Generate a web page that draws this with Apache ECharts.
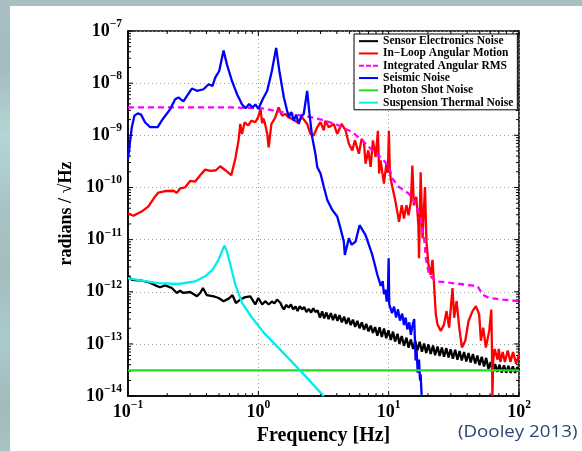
<!DOCTYPE html>
<html>
<head>
<meta charset="utf-8">
<script src="https://cdn.jsdelivr.net/npm/echarts@6/dist/echarts.min.js"></script>
<style>
  html, body { margin: 0; padding: 0; }
  body {
    width: 582px; height: 451px; overflow: hidden;
    background: linear-gradient(to bottom, #a8bfc3 0%, #a5bcbf 15%, #b4d6d5 30%, #a9c4c6 45%, #a4bcbd 60%, #aacbcd 75%, #a3babb 90%, #a9c2c4 100%);
  }
  #chart { width: 582px; height: 451px; }
</style>
</head>
<body>
<div id="chart"></div>
<script>
// 数据: [频率 Hz, radians/√Hz]
var sensorNoise = [
  [0.1, 2.0e-12], [0.107, 1.7e-12], [0.127, 1.63e-12], [0.143, 1.54e-12], [0.162, 1.33e-12],
  [0.176, 1.22e-12], [0.193, 1.33e-12], [0.217, 1.18e-12], [0.237, 9.5e-13], [0.251, 1.05e-12],
  [0.266, 9.5e-13], [0.3, 9.9e-13], [0.338, 8.2e-13], [0.358, 9.5e-13], [0.376, 1.18e-12],
  [0.403, 8.6e-13], [0.453, 8.2e-13], [0.495, 7.6e-13], [0.541, 6.6e-13], [0.592, 7.4e-13],
  [0.634, 8.6e-13], [0.673, 6.1e-13], [0.727, 7.1e-13], [0.794, 7.9e-13], [0.868, 8.2e-13],
  [0.948, 5.7e-13], [1.0, 7.6e-13], [1.07, 5.7e-13], [1.13, 6.6e-13], [1.2, 5.7e-13],
  [1.27, 6.5e-13], [1.33, 6.0e-13], [1.39, 7.1e-13], [1.48, 6.1e-13], [1.52, 5.2e-13],
  [1.57, 4.6e-13], [1.64, 5.6e-13], [1.71, 5.0e-13], [1.78, 5.7e-13], [1.85, 4.6e-13],
  [1.93, 5.2e-13], [2.0, 4.3e-13], [2.08, 5.3e-13], [2.17, 4.6e-13], [2.25, 5.1e-13],
  [2.34, 4.1e-13], [2.44, 4.7e-13], [2.54, 4.0e-13], [2.64, 4.8e-13], [2.74, 4.1e-13],
  [2.85, 4.4e-13], [2.97, 3.2e-13], [3.09, 4.2e-13], [3.2, 3.1e-13], [3.33, 4.0e-13],
  [3.46, 3.0e-13], [3.6, 3.9e-13], [3.74, 2.87e-13], [3.89, 3.74e-13], [4.05, 2.78e-13],
  [4.2, 3.57e-13], [4.37, 2.6e-13], [4.55, 3.33e-13], [4.73, 2.43e-13], [4.92, 3.16e-13],
  [5.11, 2.3e-13], [5.32, 2.93e-13], [5.53, 2.13e-13], [5.75, 2.76e-13], [5.98, 2.0e-13],
  [6.22, 2.59e-13], [6.47, 1.87e-13], [6.73, 2.42e-13], [7.0, 1.74e-13], [7.28, 2.24e-13],
  [7.57, 1.63e-13], [7.87, 2.1e-13], [8.19, 1.44e-13], [8.52, 2.09e-13], [8.86, 1.36e-13],
  [9.21, 1.98e-13], [9.58, 1.29e-13], [9.96, 1.83e-13], [10.4, 1.19e-13], [10.8, 1.72e-13],
  [11.2, 1.11e-13], [11.7, 1.57e-13], [12.1, 1.0e-13], [12.6, 1.42e-13], [13.1, 9.2e-14],
  [13.7, 1.32e-13], [14.2, 8.5e-14], [14.8, 1.22e-13], [15.4, 8.0e-14], [16.0, 1.15e-13],
  [16.6, 7.5e-14], [17.3, 1.1e-13], [18.0, 7.1e-14], [18.7, 1.02e-13], [19.4, 6.7e-14],
  [20.2, 9.8e-14], [21.0, 6.4e-14], [21.9, 9.3e-14], [22.7, 6.1e-14], [23.7, 8.9e-14],
  [24.6, 5.9e-14], [25.6, 8.5e-14], [26.6, 5.7e-14], [27.7, 8.3e-14], [28.8, 5.5e-14],
  [29.9, 7.9e-14], [31.1, 5.2e-14], [32.4, 7.7e-14], [33.7, 5.0e-14], [35.0, 7.3e-14],
  [36.4, 4.8e-14], [37.9, 7.0e-14], [39.4, 4.6e-14], [41.0, 6.7e-14], [42.6, 4.4e-14],
  [44.3, 6.4e-14], [46.1, 4.2e-14], [47.9, 6.0e-14], [49.8, 3.9e-14], [51.8, 5.7e-14],
  [53.9, 3.7e-14], [56.0, 5.4e-14], [58.3, 3.3e-14], [60.6, 4.5e-14], [63.0, 2.9e-14],
  [65.6, 4.1e-14], [68.2, 2.9e-14], [70.9, 4.0e-14], [73.7, 2.8e-14], [76.7, 3.9e-14],
  [79.7, 2.8e-14], [82.9, 3.8e-14], [86.2, 2.8e-14], [89.7, 3.7e-14], [93.3, 2.8e-14],
  [97.0, 3.6e-14], [100, 3.2e-14]
];

var inLoopMotion = [
  [0.1, 3.2e-11], [0.11, 2.86e-11], [0.127, 3.45e-11], [0.143, 4.3e-11], [0.161, 6.65e-11],
  [0.171, 8.0e-11], [0.193, 8.55e-11], [0.223, 8.66e-11], [0.237, 7.9e-11], [0.251, 9.6e-11],
  [0.274, 1.0e-10], [0.3, 1.34e-10], [0.327, 1.29e-10], [0.358, 1.72e-10], [0.391, 2.2e-10],
  [0.428, 2.08e-10], [0.473, 2.14e-10], [0.51, 2.55e-10], [0.558, 2.14e-10], [0.62, 1.72e-10],
  [0.666, 3.56e-10], [0.705, 8.0e-10], [0.727, 1.65e-9], [0.75, 1.06e-9], [0.785, 1.78e-9],
  [0.834, 1.54e-9], [0.884, 1.91e-9], [0.948, 1.78e-9], [0.995, 2.21e-9], [1.04, 3.18e-9],
  [1.07, 1.7e-9], [1.09, 2.1e-9], [1.12, 1.78e-9], [1.17, 1.06e-9], [1.2, 5.9e-10],
  [1.26, 1.65e-9], [1.35, 2.21e-9], [1.43, 3.43e-9], [1.52, 2.38e-9], [1.61, 2.56e-9],
  [1.71, 2.21e-9], [1.82, 2.06e-9], [1.99, 1.78e-9], [2.17, 2.21e-9], [2.37, 1.65e-9],
  [2.51, 1.06e-9], [2.66, 9.9e-10], [2.83, 1.43e-9], [3.0, 1.78e-9], [3.18, 1.24e-9],
  [3.27, 1.91e-9], [3.47, 1.43e-9], [3.79, 1.65e-9], [4.03, 1.06e-9], [4.35, 1.65e-9],
  [4.67, 1.24e-9], [4.95, 6.9e-10], [5.26, 5.15e-10], [5.51, 8.0e-10], [5.91, 4.44e-10],
  [6.2, 8.55e-10], [6.46, 7.4e-10], [6.65, 2.86e-10], [6.98, 5.15e-10], [7.27, 2.48e-10],
  [7.57, 8.0e-10], [7.94, 3.84e-10], [8.27, 1.22e-9], [8.45, 1.85e-10], [8.67, 3.3e-10],
  [9.2, 1.19e-10], [9.6, 2.86e-10], [9.85, 1.9e-10], [10.04, 1.22e-9], [10.2, 2.27e-10],
  [10.36, 1.47e-10], [10.67, 1.02e-10], [11.17, 6.1e-11], [11.66, 3.4e-11], [12.0, 2.19e-11],
  [12.6, 4.55e-11], [13.1, 2.54e-11], [13.7, 4.55e-11], [14.2, 2.94e-11], [14.8, 5.27e-11],
  [15.2, 2.62e-10], [15.6, 4.55e-11], [16.3, 6.58e-11], [16.9, 1.9e-11], [17.1, 4.4e-12],
  [17.6, 1.96e-10], [18.2, 1.06e-11], [19.0, 1.02e-10], [19.5, 9.16e-12], [20.2, 3.29e-12],
  [21.0, 2.12e-12], [21.7, 4.08e-12], [22.3, 1.37e-12], [23.0, 3.67e-13], [23.7, 2.37e-13],
  [25.1, 1.78e-13], [26.6, 2.37e-13], [27.8, 4.27e-13], [29.1, 2.05e-13], [30.9, 1.18e-12],
  [31.8, 3.18e-13], [33.2, 6.6e-13], [34.8, 2.05e-13], [36.5, 8.55e-14], [38.7, 1.15e-13],
  [41.0, 2.75e-13], [44.0, 4.27e-13], [46.7, 5.3e-13], [49.5, 3.67e-13], [51.0, 1.15e-13],
  [53.1, 2.05e-13], [55.7, 8.55e-14], [59.1, 1.78e-13], [61.3, 4.57e-13], [62.0, 8.55e-14],
  [62.5, 1.0e-14], [63.4, 4.8e-14], [65, 8.0e-14], [68.5, 5.0e-14], [70, 8.0e-14],
  [72, 4.5e-14], [75, 7.0e-14], [78, 4.5e-14], [82, 7.5e-14], [86, 4.5e-14],
  [90, 7.0e-14], [95, 4.2e-14], [100, 6.4e-14]
];

var integratedRms = [
  [0.1, 3.43e-9], [0.61, 3.43e-9], [1.07, 3.28e-9], [1.71, 2.64e-9], [2.59, 2.21e-9],
  [3.09, 1.97e-9], [3.91, 1.65e-9], [5.26, 1.15e-9], [6.28, 7.98e-10], [7.49, 5.15e-10],
  [8.95, 3.56e-10], [10.05, 2.48e-10], [10.7, 1.47e-10], [12.0, 1.02e-10], [14.3, 7.6e-11],
  [16.1, 4.9e-11], [17.6, 2.54e-11], [18.7, 1.06e-11], [19.3, 4.4e-12], [20.4, 2.12e-12],
  [23.0, 1.59e-12], [30.9, 1.47e-12], [42.7, 1.33e-12], [48.1, 1.28e-12], [52.6, 8.8e-13],
  [59.1, 7.6e-13], [75.0, 7.1e-13], [100, 6.6e-13]
];

var seismicNoise = [
  [0.1, 3.5e-10], [0.107, 1.43e-9], [0.112, 2.38e-9], [0.119, 2.64e-9], [0.126, 2.49e-9],
  [0.135, 1.78e-9], [0.148, 1.43e-9], [0.169, 1.43e-9], [0.182, 1.94e-9], [0.211, 3.18e-9],
  [0.23, 4.93e-9], [0.244, 5.32e-9], [0.266, 4.46e-9], [0.309, 7.88e-9], [0.338, 7.13e-9],
  [0.38, 7.64e-9], [0.415, 9.52e-9], [0.445, 8.88e-9], [0.467, 1.28e-8], [0.501, 1.71e-8],
  [0.541, 4.22e-8], [0.574, 2.29e-8], [0.628, 1.1e-8], [0.686, 6.14e-9], [0.727, 4.6e-9],
  [0.75, 3.9e-9], [0.8, 3.3e-9], [0.85, 4.0e-9], [0.9, 3.4e-9], [0.95, 3.9e-9],
  [1.0, 3.2e-9], [1.08, 4.93e-9], [1.17, 7.13e-9], [1.27, 1.71e-8], [1.37, 4.75e-8],
  [1.45, 1.71e-8], [1.57, 5.32e-9], [1.71, 2.21e-9], [1.79, 2.8e-9], [1.87, 1.91e-9],
  [1.95, 2.5e-9], [2.04, 1.65e-9], [2.13, 2.3e-9], [2.23, 2.56e-9], [2.37, 7.13e-9],
  [2.47, 2.56e-9], [2.59, 9.22e-10], [2.74, 4.44e-10], [2.83, 2.48e-10], [3.0, 1.85e-10],
  [3.18, 1.03e-10], [3.38, 5.76e-11], [3.69, 3.72e-11], [4.03, 2.77e-11], [4.27, 1.64e-11],
  [4.53, 9.16e-12], [4.61, 5.09e-12], [4.95, 1.06e-11], [5.2, 8.0e-12], [5.57, 9.16e-12],
  [5.98, 1.89e-11], [6.65, 1.22e-11], [7.49, 5.09e-12], [8.19, 2.12e-12], [8.7, 1.3e-12],
  [9.0, 1.6e-12], [9.2, 9.0e-13], [9.45, 1.1e-12], [9.66, 6.5e-13], [9.85, 8.0e-13],
  [10.0, 4.4e-12], [10.1, 5.8e-13], [10.35, 6.0e-13], [10.6, 3.9e-13], [11.0, 5.2e-13],
  [11.4, 3.2e-13], [11.8, 4.6e-13], [12.2, 2.8e-13], [12.7, 3.8e-13], [13.1, 2.3e-13],
  [13.5, 3.2e-13], [13.9, 1.9e-13], [14.4, 2.6e-13], [14.8, 1.5e-13], [15.2, 2.2e-13],
  [15.7, 3.0e-13], [16.1, 4.8e-14], [16.4, 7.5e-14], [16.7, 2.8e-14], [17.1, 5.0e-14],
  [17.4, 2.0e-14], [17.6, 2.6e-14], [17.9, 1.0e-14]
];

var shotNoise = [[0.1, 3.1e-14], [100, 3.1e-14]];

var thermalNoise = [
  [0.1, 1.83e-12], [0.127, 1.63e-12], [0.171, 1.47e-12], [0.244, 1.41e-12], [0.327, 1.58e-12],
  [0.391, 1.98e-12], [0.445, 2.64e-12], [0.495, 4.08e-12], [0.531, 6.33e-12], [0.551, 7.68e-12],
  [0.574, 5.9e-12], [0.61, 3.29e-12], [0.666, 1.37e-12], [0.75, 6.14e-13], [0.895, 3.18e-13],
  [1.1, 1.65e-13], [2.1, 3.08e-14], [3.18, 1.0e-14]
];

var seriesNames = ['Sensor Electronics Noise', 'In\u2212Loop Angular Motion', 'Integrated Angular RMS',
  'Seismic Noise', 'Photon Shot Noise', 'Suspension Thermal Noise'];

// 刻度
var xMajorTicks = [0.1, 1, 10, 100];
var yMajorTicks = [1e-14, 1e-13, 1e-12, 1e-11, 1e-10, 1e-9, 1e-8, 1e-7];
var xMinorTicks = [];
var yMinorTicks = [];
[0.1, 1, 10].forEach(function (d) {
  for (var k = 2; k <= 9; k++) xMinorTicks.push(k * d);
});
[1e-14, 1e-13, 1e-12, 1e-11, 1e-10, 1e-9, 1e-8].forEach(function (d) {
  for (var k = 2; k <= 9; k++) yMinorTicks.push(k * d);
});

var serif = 'Liberation Serif';

function powLabel(v) {
  var e = Math.round(Math.log10(v));
  var s = e < 0 ? '\u2212' + (-e) : '' + e;
  return '{b|10}{s|' + s + '}';
}

var labelRich = {
  b: { fontSize: 18, fontWeight: 'bold', fontFamily: serif, color: '#000' },
  s: { fontSize: 11.5, fontWeight: 'bold', fontFamily: serif, color: '#000', padding: [0, 0, 14, 0] }
};

// 图例图标: 实线 / 虚线
var solidIcon = 'path://M0,0h19v2h-19z';
var dashIcon = 'path://M0,0h5v2h-5zM7,0h5v2h-5zM14,0h5v2h-5z';

function lineSeries(name, data, color, width, dashed) {
  return {
    name: name,
    type: 'line',
    data: data,
    symbol: 'none',
    showSymbol: false,
    clip: true,
    lineStyle: { color: color, width: width, type: dashed ? [6, 4] : 'solid' },
    itemStyle: { color: color },
    emphasis: { disabled: true }
  };
}

var xTickData = xMajorTicks.map(function (v) { return [v, 1e-14, 5]; })
  .concat(xMinorTicks.map(function (v) { return [v, 1e-14, 3]; }));
var yTickData = yMajorTicks.map(function (v) { return [0.1, v, 5]; })
  .concat(yMinorTicks.map(function (v) { return [0.1, v, 3]; }));

var chart = echarts.init(document.getElementById('chart'));

var option = {
  animation: false,
  backgroundColor: 'transparent',
  graphic: [
    { type: 'rect', left: 10, top: 6, shape: { width: 572, height: 445 }, style: { fill: '#fff' }, z: -10 },
    {
      type: 'text', left: 458, top: 424, scaleX: 1.17,
      style: { text: '(Dooley 2013)', font: '16px "Open Sans"', fill: '#2b4572' }
    }
  ],
  grid: {
    left: 128, top: 31, width: 391, height: 368,
    show: true, borderColor: '#000', borderWidth: 1.5, backgroundColor: '#fff'
  },
  legend: {
    data: seriesNames.map(function (n, i) {
      return { name: n, icon: i === 2 ? dashIcon : solidIcon };
    }),
    orient: 'vertical',
    left: 354, top: 34,
    backgroundColor: '#fff',
    borderColor: '#000', borderWidth: 1,
    padding: [1, 4, 1, 5],
    itemWidth: 19, itemHeight: 2, itemGap: 0,
    textStyle: { fontFamily: serif, fontWeight: 'bold', fontSize: 11.5, lineHeight: 12.3, color: '#000' },
    selectedMode: false
  },
  xAxis: {
    type: 'log', logBase: 10, min: 0.1, max: 100, interval: 1,
    name: 'Frequency [Hz]', nameLocation: 'middle', nameGap: 18,
    nameTextStyle: { fontFamily: serif, fontWeight: 'bold', fontSize: 20, color: '#000' },
    axisLine: { show: true, lineStyle: { color: '#000', width: 1.5 } },
    axisTick: { show: false },
    axisLabel: { formatter: powLabel, rich: labelRich, margin: 3, showMinLabel: true, showMaxLabel: true },
    splitLine: { show: true, lineStyle: { color: '#999', width: 1, type: [1, 3] } }
  },
  yAxis: {
    type: 'log', logBase: 10, min: 1e-14, max: 1e-7, interval: 1, splitNumber: 7,
    name: 'radians / \u221AHz', nameLocation: 'middle', nameGap: 42, nameRotate: 90,
    nameTextStyle: { fontFamily: serif, fontWeight: 'bold', fontSize: 18, color: '#000' },
    axisLine: { show: true, lineStyle: { color: '#000', width: 1.5 } },
    axisTick: { show: false },
    axisLabel: { formatter: powLabel, rich: labelRich, margin: 6, showMinLabel: true, showMaxLabel: true },
    splitLine: { show: true, lineStyle: { color: '#999', width: 1, type: [1, 3] } }
  },
  series: [
    lineSeries(seriesNames[0], sensorNoise, '#000000', 2.3),
    lineSeries(seriesNames[1], inLoopMotion, '#ff0000', 2.3),
    lineSeries(seriesNames[2], integratedRms, '#ff00ff', 2.3, true),
    lineSeries(seriesNames[3], seismicNoise, '#0000ff', 2.3),
    lineSeries(seriesNames[4], shotNoise, '#22dd22', 2.3),
    lineSeries(seriesNames[5], thermalNoise, '#00eeee', 2.3),
    {
      name: 'xTicks', type: 'custom', silent: true, data: xTickData,
      renderItem: function (params, api) {
        var v = api.value(0), len = api.value(2);
        var b = api.coord([v, 1e-14]), t = api.coord([v, 1e-7]);
        var st = { stroke: '#000', lineWidth: 1 };
        return { type: 'group', children: [
          { type: 'line', shape: { x1: b[0], y1: b[1], x2: b[0], y2: b[1] - len }, style: st },
          { type: 'line', shape: { x1: t[0], y1: t[1], x2: t[0], y2: t[1] + len }, style: st }
        ] };
      }
    },
    {
      name: 'yTicks', type: 'custom', silent: true, data: yTickData,
      renderItem: function (params, api) {
        var v = api.value(1), len = api.value(2);
        var l = api.coord([0.1, v]), r = api.coord([100, v]);
        var st = { stroke: '#000', lineWidth: 1 };
        return { type: 'group', children: [
          { type: 'line', shape: { x1: l[0], y1: l[1], x2: l[0] + len, y2: l[1] }, style: st },
          { type: 'line', shape: { x1: r[0], y1: r[1], x2: r[0] - len, y2: r[1] }, style: st }
        ] };
      }
    }
  ]
};

chart.setOption(option);
</script>
</body>
</html>
